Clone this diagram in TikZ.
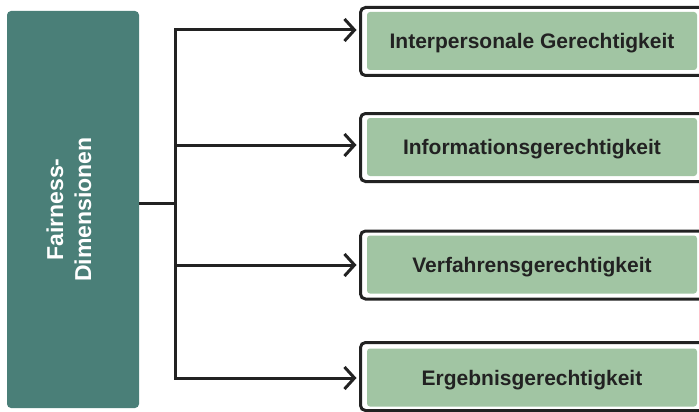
\documentclass[tikz,border=0pt]{standalone}
\usepackage{fontspec}
\setmainfont{Liberation Sans}
\usetikzlibrary{arrows.meta}
\definecolor{dimteal}{HTML}{4A7F78}
\definecolor{dimgreen}{HTML}{A1C5A3}
\definecolor{ink}{HTML}{222222}
\tikzset{
  rootbox/.style={fill=dimteal, rounded corners=4pt, inner sep=0pt, outer sep=0pt},
  shellbox/.style={draw=ink, line width=3pt, fill=white, rounded corners=5pt,
    inner sep=0pt, outer sep=0pt, minimum width=360pt, minimum height=68pt, anchor=west},
  itembox/.style={fill=dimgreen, rounded corners=3pt, inner sep=0pt, outer sep=0pt,
    minimum width=330pt, minimum height=58pt, anchor=west, text=ink,
    text height=15pt, text depth=0pt,
    font=\bfseries\fontsize{21}{25}\selectfont},
  link/.style={draw=ink, line width=3pt},
  arrowlink/.style={link, -{Straight Barb[length=10pt,width=22pt,line width=3pt]}, shorten >=4pt}
}
\begin{document}
\begin{tikzpicture}[x=1pt,y=-1pt]
  \useasboundingbox (0,0) rectangle (699,412);
  \clip (0,0) rectangle (699,412);

  % root box
  \node[rootbox, minimum width=132pt, minimum height=397pt, anchor=north west] (fd) at (7,11) {};
  \node[rotate=90, text=white, align=center, font=\bfseries\fontsize{23}{28}\selectfont]
    (fdtext) at ([xshift=-4pt]fd.center) {Fairness-\\Dimensionen};

  % dimension boxes
  \node[shellbox] (b1) at (360.5,41.5) {};
  \node[shellbox] (b2) at (360.5,147.5) {};
  \node[shellbox] (b3) at (360.5,265) {};
  \node[shellbox] (b4) at (360.5,376.5) {};
  \node[itembox] (g1) at (367,41) {Interpersonale Gerechtigkeit};
  \node[itembox] (g2) at (367,147) {Informationsgerechtigkeit};
  \node[itembox] (g3) at (367,264.5) {Verfahrensgerechtigkeit};
  \node[itembox] (g4) at (367,377.5) {Ergebnisgerechtigkeit};

  % tree connectors
  \coordinate (hub) at (175,203);
  \coordinate (j1) at (175,30);
  \coordinate (j2) at (175,145);
  \coordinate (j3) at (175,265);
  \coordinate (j4) at (175,378);
  \draw[link] (fd.east |- hub) -- (hub);
  \draw[link, line cap=rect] (j1) -- (j4);
  \draw[arrowlink] (j1) -- (j1 -| b1.west);
  \draw[arrowlink] (j2) -- (j2 -| b2.west);
  \draw[arrowlink] (j3) -- (j3 -| b3.west);
  \draw[arrowlink] (j4) -- (j4 -| b4.west);
\end{tikzpicture}
\end{document}
